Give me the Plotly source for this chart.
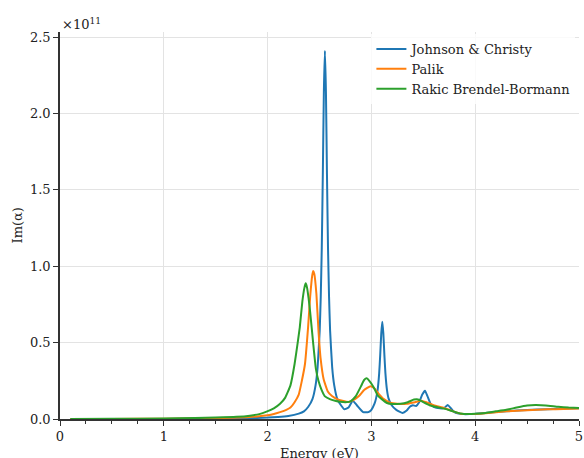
import plotly.graph_objects as go

SCALE_EXP = 11  # values below are in units of 1e11

# Johnson & Christy
jc_energy = [0.1, 0.5, 1.0, 1.5, 1.8, 2.0, 2.1, 2.2, 2.3, 2.35, 2.392, 2.432, 2.462, 2.482,
             2.502, 2.512, 2.522, 2.532, 2.542, 2.552, 2.562, 2.572, 2.582, 2.592, 2.602,
             2.622, 2.642, 2.672, 2.712, 2.74, 2.78, 2.82, 2.86, 2.92, 2.97, 3.0, 3.03,
             3.045, 3.06, 3.075, 3.085, 3.095, 3.105, 3.115, 3.125, 3.135, 3.15, 3.165,
             3.195, 3.24, 3.30, 3.34, 3.37, 3.40, 3.43, 3.46, 3.49, 3.516, 3.54, 3.57,
             3.60, 3.66, 3.70, 3.735, 3.76, 3.79, 3.84, 3.89, 4.0, 4.2, 4.4, 4.6, 4.8, 5.0]
jc_im = [0.0, 0.0005, 0.0008, 0.002, 0.005, 0.009, 0.013, 0.02, 0.035, 0.05, 0.08, 0.13,
         0.22, 0.34, 0.58, 0.80, 1.12, 1.60, 2.14, 2.41, 2.14, 1.60, 1.12, 0.80, 0.58,
         0.34, 0.22, 0.13, 0.085, 0.063, 0.075, 0.12, 0.09, 0.045, 0.045, 0.06, 0.10,
         0.135, 0.19, 0.30, 0.42, 0.56, 0.637, 0.56, 0.42, 0.30, 0.19, 0.135,
         0.09, 0.06, 0.04, 0.055, 0.08, 0.09, 0.085, 0.11, 0.16, 0.185, 0.15, 0.10,
         0.08, 0.07, 0.072, 0.092, 0.075, 0.05, 0.035, 0.032, 0.034, 0.045, 0.055, 0.062, 0.067, 0.07]

# Palik
pa_energy = [0.1, 0.5, 1.0, 1.5, 1.8, 1.9, 2.0, 2.06, 2.12, 2.18, 2.22, 2.26, 2.30, 2.33,
             2.36, 2.39, 2.41, 2.43, 2.44, 2.45, 2.47, 2.49, 2.51, 2.54, 2.58, 2.62, 2.67,
             2.72, 2.78, 2.83, 2.88, 2.93, 2.99, 3.03, 3.07, 3.12, 3.18, 3.25, 3.34, 3.42,
             3.48, 3.53, 3.60, 3.70, 3.79, 3.86, 3.95, 4.1, 4.3, 4.5, 4.7, 4.85, 5.0]
pa_im = [0.0, 0.0005, 0.0015, 0.005, 0.012, 0.017, 0.025, 0.033, 0.045, 0.06, 0.075, 0.11,
         0.16, 0.25, 0.36, 0.60, 0.80, 0.94, 0.968, 0.95, 0.82, 0.58, 0.40, 0.26, 0.18,
         0.15, 0.13, 0.12, 0.112, 0.125, 0.15, 0.19, 0.215, 0.2, 0.165, 0.13, 0.107, 0.10,
         0.10, 0.11, 0.12, 0.11, 0.09, 0.072, 0.05, 0.035, 0.032, 0.038, 0.05, 0.058,
         0.063, 0.066, 0.068]

# Rakic Brendel-Bormann
rb_energy = [0.1, 0.5, 1.0, 1.3, 1.5, 1.7, 1.83, 1.92, 1.99, 2.06, 2.12, 2.17, 2.22, 2.26,
             2.29, 2.31, 2.335, 2.355, 2.367, 2.38, 2.395, 2.41, 2.44, 2.465, 2.49, 2.52,
             2.55, 2.6, 2.65, 2.7, 2.75, 2.8, 2.85, 2.9, 2.93, 2.955, 2.98, 3.02, 3.06,
             3.1, 3.15, 3.2, 3.28, 3.35, 3.41, 3.45, 3.5, 3.56, 3.63, 3.7, 3.79, 3.86,
             3.93, 4.0, 4.1, 4.2, 4.3, 4.4, 4.5, 4.58, 4.68, 4.8, 4.9, 5.0]
rb_im = [0.0, 0.001, 0.003, 0.006, 0.009, 0.014, 0.022, 0.032, 0.048, 0.07, 0.10, 0.14,
         0.22, 0.36, 0.50, 0.60, 0.77, 0.86, 0.888, 0.86, 0.79, 0.70, 0.49, 0.33, 0.25,
         0.19, 0.15, 0.13, 0.12, 0.113, 0.11, 0.115, 0.15, 0.215, 0.255, 0.266, 0.25,
         0.21, 0.155, 0.13, 0.105, 0.098, 0.10, 0.11, 0.127, 0.128, 0.11, 0.09, 0.078,
         0.068, 0.05, 0.036, 0.032, 0.034, 0.04, 0.05, 0.06, 0.075, 0.088, 0.092, 0.089,
         0.08, 0.075, 0.072]

series = [
    ("Johnson & Christy", jc_energy, jc_im, "#1f77b4"),
    ("Palik", pa_energy, pa_im, "#ff7f0e"),
    ("Rakic Brendel-Bormann", rb_energy, rb_im, "#2ca02c"),
]

x_ticks = [0, 1, 2, 3, 4, 5]
y_ticks = [0.0, 0.5, 1.0, 1.5, 2.0, 2.5]
y_tick_labels = ["0.0", "0.5", "1.0", "1.5", "2.0", "2.5"]
x_title = "Energy (eV)"
y_title = "Im(α)"

FONT = "DejaVu Serif"
FS = 13

fig = go.Figure()
for name, xs, ys, color in series:
    fig.add_trace(go.Scatter(x=xs, y=ys, mode="lines", name=name,
                             line=dict(color=color, width=2, shape="spline", smoothing=0.4)))

fig.update_layout(
    width=584, height=458,
    margin=dict(l=60, r=5, t=32, b=39, autoexpand=False),
    paper_bgcolor="white", plot_bgcolor="white",
    font=dict(family=FONT, size=FS, color="#222"),
    showlegend=True,
    legend=dict(x=0.600, y=0.995, xanchor="left", yanchor="top",
                bgcolor="rgba(255,255,255,0.8)", borderwidth=0,
                font=dict(family=FONT, size=FS, color="#222"),
                tracegroupgap=0, itemwidth=30),
    xaxis=dict(range=[0, 5], tickvals=x_ticks, ticktext=[str(v) for v in x_ticks],
               automargin=False,
               showgrid=True, gridcolor="#e3e3e3", gridwidth=1,
               showline=True, linecolor="#333", linewidth=1.5,
               ticks="outside", ticklen=5, tickwidth=1.2, tickcolor="#333",
               minor=dict(dtick=0.25, ticks="outside", ticklen=3, tickcolor="#333",
                          showgrid=False),
               zeroline=False),
    yaxis=dict(range=[0, 2.533], tickvals=y_ticks, ticktext=y_tick_labels,
               automargin=False,
               showgrid=True, gridcolor="#e3e3e3", gridwidth=1,
               showline=True, linecolor="#333", linewidth=1.5,
               ticks="outside", ticklen=5, tickwidth=1.2, tickcolor="#333",
               zeroline=False),
)

fig.add_annotation(x=0, y=1, xref="paper", yref="paper", xanchor="left", yanchor="bottom",
                   text="×10<sup>%d</sup>" % SCALE_EXP, showarrow=False,
                   font=dict(family=FONT, size=FS, color="#222"), yshift=-2)
fig.add_annotation(x=0.5, y=0, xref="paper", yref="paper", xanchor="center", yanchor="middle",
                   text=x_title, showarrow=False, yshift=-34,
                   font=dict(family=FONT, size=FS, color="#222"))
fig.add_annotation(x=0, y=0.5, xref="paper", yref="paper", xanchor="center", yanchor="middle",
                   text=y_title, showarrow=False, textangle=-90, xshift=-43,
                   font=dict(family=FONT, size=FS, color="#222"))

fig.write_html("out.html")
